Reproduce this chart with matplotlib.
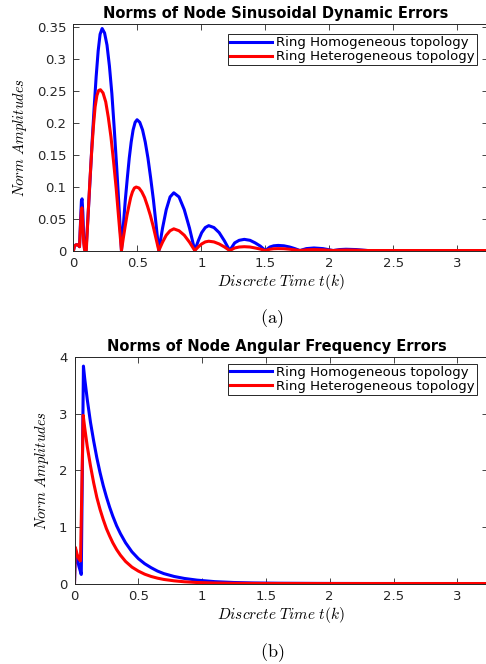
import matplotlib

matplotlib.use("Agg")
import matplotlib.pyplot as plt
from matplotlib.ticker import FuncFormatter


# (a) sinusoidal dynamic error norms
SIN_T_HOMO = [
    0, 0.008, 0.02, 0.035, 0.047, 0.055, 0.062, 0.067, 0.073, 0.08, 0.086, 0.098,
    0.114, 0.130, 0.145, 0.161, 0.177, 0.193, 0.208, 0.224,
    0.243, 0.262, 0.281, 0.300, 0.318, 0.337, 0.356, 0.375,
    0.390, 0.405, 0.421, 0.436, 0.451, 0.466, 0.482, 0.497,
    0.518, 0.540, 0.561, 0.582, 0.603, 0.625, 0.646, 0.667,
    0.696, 0.725, 0.755, 0.784, 0.825, 0.866, 0.907, 0.948,
    0.975, 1.002, 1.030, 1.057, 1.098, 1.139, 1.180, 1.221,
    1.26, 1.295, 1.335, 1.38, 1.42, 1.46, 1.50,
    1.535, 1.565, 1.60, 1.645, 1.69, 1.73, 1.77,
    1.82, 1.88, 1.95, 2.03,
    2.08, 2.13, 2.21, 2.30,
    3.25,
]
SIN_HOMO = [
    0, 0.007, 0.009, 0.009, 0.006, 0.045, 0.078, 0.081, 0.06, 0.02, 0.002, 0,
    0.055, 0.112, 0.168, 0.222, 0.272, 0.313, 0.339, 0.348,
    0.341, 0.322, 0.289, 0.246, 0.193, 0.133, 0.068, 0,
    0.040, 0.079, 0.114, 0.145, 0.170, 0.189, 0.201, 0.205,
    0.201, 0.189, 0.170, 0.145, 0.114, 0.079, 0.040, 0,
    0.035, 0.064, 0.084, 0.0905, 0.084, 0.064, 0.035, 0,
    0.015, 0.028, 0.036, 0.039, 0.036, 0.028, 0.015, 0,
    0.012, 0.016, 0.0175, 0.016, 0.012, 0.007, 0,
    0.0055, 0.0074, 0.008, 0.0074, 0.0055, 0.003, 0,
    0.003, 0.004, 0.003, 0,
    0.0015, 0.002, 0.0015, 0,
    0,
]
SIN_T_HETERO = [
    0, 0.008, 0.02, 0.035, 0.047, 0.055, 0.062, 0.066, 0.072, 0.08, 0.088, 0.100,
    0.114, 0.128, 0.142, 0.156, 0.169, 0.183, 0.197, 0.211,
    0.231, 0.252, 0.272, 0.293, 0.313, 0.334, 0.354, 0.375,
    0.389, 0.404, 0.418, 0.433, 0.447, 0.461, 0.476, 0.490,
    0.512, 0.534, 0.556, 0.578, 0.601, 0.623, 0.645, 0.667,
    0.696, 0.725, 0.755, 0.784, 0.825, 0.866, 0.907, 0.948,
    0.975, 1.002, 1.030, 1.057, 1.098, 1.139, 1.180, 1.221,
    1.26, 1.295, 1.335, 1.38, 1.42, 1.46, 1.50,
    1.535, 1.565, 1.60, 1.645, 1.69, 1.73, 1.77,
    1.82, 1.88, 1.95, 2.03,
    2.08, 2.13, 2.21, 2.30,
    3.25,
]
SIN_HETERO = [
    0, 0.007, 0.009, 0.009, 0.006, 0.04, 0.064, 0.067, 0.045, 0.012, 0, 0,
    0.055, 0.108, 0.155, 0.195, 0.225, 0.243, 0.251, 0.252,
    0.247, 0.233, 0.209, 0.178, 0.140, 0.097, 0.049, 0,
    0.019, 0.038, 0.055, 0.070, 0.083, 0.092, 0.098, 0.0995,
    0.098, 0.092, 0.083, 0.070, 0.055, 0.038, 0.019, 0,
    0.013, 0.024, 0.031, 0.034, 0.031, 0.024, 0.013, 0,
    0.0056, 0.0103, 0.0135, 0.0146, 0.0135, 0.0103, 0.0056, 0,
    0.004, 0.0055, 0.006, 0.0055, 0.004, 0.0023, 0,
    0.002, 0.0028, 0.003, 0.0028, 0.002, 0.0011, 0,
    0.0011, 0.0015, 0.0011, 0,
    0.0006, 0.0008, 0.0006, 0,
    0,
]

# (b) angular frequency error norms
FREQ_T_HOMO = [
    0, 0.008, 0.02, 0.035, 0.053, 0.07, 0.08, 0.10, 0.125, 0.15,
    0.175, 0.20, 0.225, 0.25, 0.275, 0.30, 0.33, 0.36, 0.40, 0.45,
    0.50, 0.55, 0.60, 0.65, 0.70, 0.78, 0.86, 0.96, 1.1, 1.25,
    1.4, 1.6, 1.9, 2.3, 3.25,
]
FREQ_HOMO = [
    0, 0.6, 0.45, 0.3, 0.16, 3.84, 3.62, 3.25, 2.85, 2.52,
    2.22, 1.96, 1.73, 1.53, 1.35, 1.19, 1.02, 0.88, 0.72, 0.56,
    0.44, 0.35, 0.28, 0.22, 0.175, 0.125, 0.09, 0.06, 0.033, 0.018,
    0.01, 0.005, 0.002, 0.0005, 0,
]
FREQ_T_HETERO = [
    0, 0.006, 0.02, 0.035, 0.047, 0.068, 0.08, 0.10, 0.125, 0.15,
    0.175, 0.20, 0.225, 0.25, 0.275, 0.30, 0.33, 0.36, 0.40, 0.45,
    0.50, 0.55, 0.60, 0.65, 0.70, 0.78, 0.86, 0.96, 1.1, 1.25,
    1.5, 2.0, 3.25,
]
FREQ_HETERO = [
    0, 0.64, 0.52, 0.43, 0.40, 2.97, 2.75, 2.42, 2.08, 1.78,
    1.52, 1.31, 1.13, 0.97, 0.84, 0.72, 0.60, 0.50, 0.39, 0.29,
    0.22, 0.165, 0.125, 0.095, 0.072, 0.048, 0.031, 0.018, 0.009, 0.004,
    0.001, 0, 0,
]

LABELS = ["Ring Homogeneous topology", "Ring Heterogeneous topology"]
X_TICKS = [0, 0.5, 1, 1.5, 2, 2.5, 3]
SIN_Y_TICKS = [0, 0.05, 0.1, 0.15, 0.2, 0.25, 0.3, 0.35]
FREQ_Y_TICKS = [0, 1, 2, 3, 4]

AX_GRAY = "#262626"


def style_axes(ax, yticks, ylim):
    ax.set_xlim(0, 3.24)
    ax.set_ylim(*ylim)
    ax.set_xticks(X_TICKS)
    ax.set_yticks(yticks)
    fmt = FuncFormatter(lambda v, _: f"{v:g}")
    ax.xaxis.set_major_formatter(fmt)
    ax.yaxis.set_major_formatter(fmt)
    ax.tick_params(direction="in", top=True, right=True, length=4, width=0.6,
                   labelsize=9.5, colors=AX_GRAY, pad=5)
    for sp in ax.spines.values():
        sp.set_color(AX_GRAY)
        sp.set_linewidth(0.7)
    ax.set_xlabel(r"$Discrete\ Time\ t(k)$", fontsize=11, labelpad=1)
    ax.set_ylabel(r"$Norm\ Amplitudes$", fontsize=10.5, labelpad=6)


def draw_panel(ax, t_homo, homo, t_het, het, title, legend_y):
    ax.plot(t_homo, homo, color="#0000ff", lw=2.2, label=LABELS[0],
            solid_joinstyle="round")
    ax.plot(t_het, het, color="#ff0000", lw=2.2, label=LABELS[1],
            solid_joinstyle="round")
    ax.set_title(title, fontsize=10.5, fontweight="bold", pad=4, x=0.4885)
    leg = ax.legend(loc="upper right", bbox_to_anchor=(0.9735, legend_y),
                    borderaxespad=0, fancybox=False, fontsize=9.5,
                    handlelength=3.2, handletextpad=0.35, borderpad=0.15,
                    labelspacing=0.08, framealpha=1)
    leg.get_frame().set_edgecolor(AX_GRAY)
    leg.get_frame().set_linewidth(0.7)


def main() -> None:
    plt.rcParams["font.family"] = ["DejaVu Sans"]
    plt.rcParams["mathtext.fontset"] = "cm"

    fig = plt.figure(figsize=(4.86, 6.64), dpi=100)

    ax1 = fig.add_axes([0.1512, 0.6227, 0.8529, 0.3411])
    draw_panel(ax1, SIN_T_HOMO, SIN_HOMO, SIN_T_HETERO, SIN_HETERO,
               "Norms of Node Sinusoidal Dynamic Errors", 0.9545)
    style_axes(ax1, SIN_Y_TICKS, (0, 0.355))

    ax2 = fig.add_axes([0.1533, 0.1212, 0.8508, 0.3411])
    draw_panel(ax2, FREQ_T_HOMO, FREQ_HOMO, FREQ_T_HETERO, FREQ_HETERO,
               "Norms of Node Angular Frequency Errors", 0.969)
    style_axes(ax2, FREQ_Y_TICKS, (0, 4))

    fig.text(272 / 486, 1 - 319 / 664, r"$\mathrm{(a)}$", fontsize=13,
             ha="center", va="center")
    fig.text(272 / 486, 1 - 653 / 664, r"$\mathrm{(b)}$", fontsize=13,
             ha="center", va="center")

    fig.savefig("out.png", dpi=100)
    plt.close(fig)


if __name__ == "__main__":
    main()
